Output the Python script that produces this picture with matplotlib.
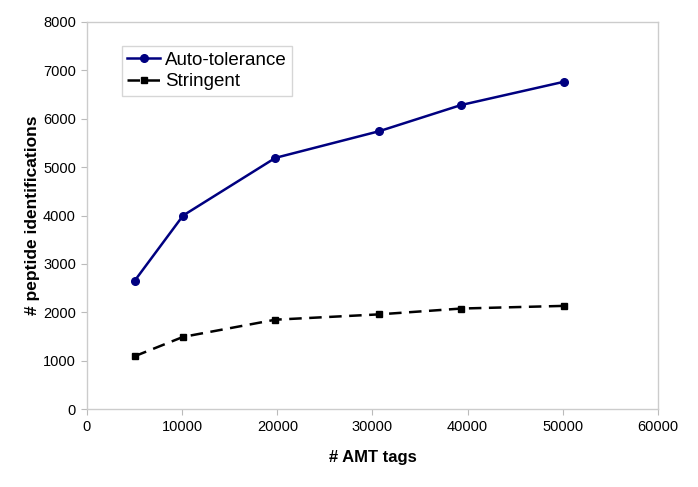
import matplotlib
matplotlib.use("Agg")
import matplotlib.pyplot as plt

plt.rcParams['font.family'] = ['Liberation Sans', 'DejaVu Sans']

amt_tags = [5000, 10100, 19800, 30700, 39300, 50100]
auto_tolerance = [2650, 4000, 5190, 5740, 6280, 6760]
stringent = [1095, 1495, 1850, 1960, 2080, 2135]

x_ticks = [0, 10000, 20000, 30000, 40000, 50000, 60000]
y_ticks = [0, 1000, 2000, 3000, 4000, 5000, 6000, 7000, 8000]

fig = plt.figure(figsize=(6.98, 4.87), dpi=100)
ax = fig.add_axes([0.1246, 0.1595, 0.8181, 0.7959])

ax.plot(amt_tags, auto_tolerance, color='#000080', lw=1.8, marker='o', ms=5.5,
        label='Auto-tolerance')
ax.plot(amt_tags, stringent, color='black', lw=1.8, marker='s', ms=4.8,
        dashes=(5, 3), label='Stringent')

ax.set_xlim(0, 60000)
ax.set_ylim(0, 8000)
ax.set_xticks(x_ticks)
ax.set_yticks(y_ticks)
ax.tick_params(axis='both', labelsize=10.5, color='#bbbbbb', length=4, pad=4)
for s in ax.spines.values():
    s.set_color('#cccccc')
    s.set_linewidth(1)

ax.set_xlabel('# AMT tags', fontsize=12, fontweight='bold', labelpad=11)
ax.set_ylabel('# peptide identifications', fontsize=12.5, fontweight='bold', labelpad=2)

leg = ax.legend(loc='upper left', bbox_to_anchor=(0.061, 0.938), fontsize=13.5,
                frameon=True, fancybox=False, handlelength=1.75, handletextpad=0.25,
                borderpad=0.3, labelspacing=0.25, borderaxespad=0)
leg.get_frame().set_edgecolor('#cccccc')
leg.get_frame().set_linewidth(1)

fig.savefig('out.png', dpi=100)
